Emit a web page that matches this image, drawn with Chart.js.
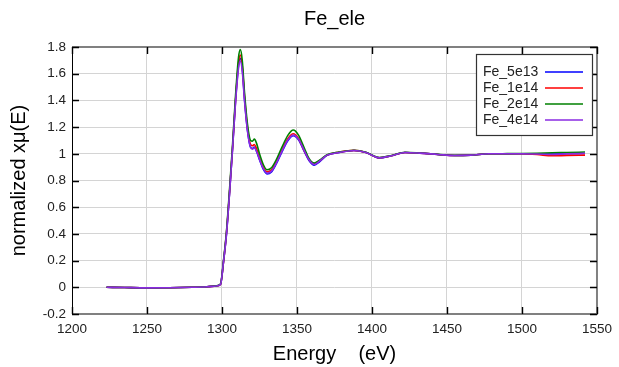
<!DOCTYPE html>
<html>
<head>
<meta charset="utf-8">
<title>Fe_ele</title>
<script src="https://cdn.jsdelivr.net/npm/chart.js@4/dist/chart.umd.min.js"></script>
<style>
    html, body { margin: 0; padding: 0; background: #ffffff; }
    #wrap { width: 619px; height: 367px; }
</style>
</head>
<body>
<div id="wrap"><canvas id="grafico" width="619" height="367"></canvas></div>
<script>
// Energia (eV) dos pontos medidos
var energia = [1223, 1235, 1250, 1265, 1280, 1290, 1296, 1299, 1301, 1303,
    1305, 1307, 1309, 1311, 1312.2, 1313.5, 1315, 1317, 1319, 1320.3,
    1321.6, 1323, 1325, 1327.5, 1330, 1333, 1336, 1340, 1344, 1347.5,
    1351, 1355, 1358, 1361.5, 1365, 1370, 1378, 1388, 1396, 1405,
    1413, 1422, 1432, 1444, 1455, 1466, 1478, 1490, 1500, 1510,
    1520, 1530, 1542];

// xmu normalizado de cada amostra
var fe5e13 = [0.000, -0.002, -0.004, -0.003, 0.000, 0.004, 0.010, 0.022, 0.19, 0.40,
    0.70, 1.03, 1.39, 1.66, 1.715, 1.64, 1.41, 1.175, 1.05, 1.04,
    1.05, 1.02, 0.955, 0.885, 0.85, 0.865, 0.92, 1.015, 1.10, 1.135,
    1.105, 1.015, 0.95, 0.915, 0.94, 0.988, 1.01, 1.025, 1.01, 0.968,
    0.985, 1.01, 1.005, 0.995, 0.987, 0.99, 1.0, 1.0, 1.0, 0.999,
    0.998, 1.0, 1.002];

var fe1e14 = [0.000, -0.002, -0.004, -0.003, 0.000, 0.004, 0.010, 0.022, 0.19, 0.41,
    0.71, 1.04, 1.40, 1.68, 1.74, 1.66, 1.43, 1.19, 1.07, 1.06,
    1.07, 1.04, 0.97, 0.90, 0.865, 0.88, 0.935, 1.03, 1.115, 1.15,
    1.115, 1.02, 0.958, 0.925, 0.948, 0.99, 1.012, 1.026, 1.01, 0.97,
    0.986, 1.01, 1.005, 0.995, 0.987, 0.99, 1.0, 1.0, 1.0, 0.995,
    0.985, 0.988, 0.99];

var fe2e14 = [0.000, -0.002, -0.004, -0.003, 0.000, 0.004, 0.011, 0.024, 0.20, 0.42,
    0.73, 1.06, 1.43, 1.72, 1.78, 1.70, 1.46, 1.22, 1.10, 1.095,
    1.11, 1.08, 1.0, 0.92, 0.88, 0.895, 0.95, 1.05, 1.14, 1.178,
    1.14, 1.04, 0.965, 0.93, 0.952, 0.993, 1.013, 1.027, 1.012, 0.972,
    0.987, 1.012, 1.006, 0.996, 0.988, 0.99, 1.0, 1.001, 1.002, 1.004,
    1.008, 1.01, 1.013];

var fe4e14 = [0.000, -0.002, -0.004, -0.003, 0.000, 0.004, 0.010, 0.022, 0.19, 0.40,
    0.70, 1.03, 1.38, 1.64, 1.695, 1.62, 1.40, 1.17, 1.05, 1.035,
    1.045, 1.02, 0.96, 0.89, 0.855, 0.87, 0.925, 1.02, 1.105, 1.14,
    1.11, 1.02, 0.955, 0.92, 0.945, 0.99, 1.01, 1.025, 1.01, 0.97,
    0.985, 1.01, 1.005, 0.995, 0.987, 0.99, 1.0, 1.0, 1.0, 0.998,
    0.995, 1.0, 1.004];

var amostras = ['Fe_5e13', 'Fe_1e14', 'Fe_2e14', 'Fe_4e14'];
var series = [fe5e13, fe1e14, fe2e14, fe4e14];
var cores = ['#0000ff', '#ff0000', '#008000', '#8a2be2'];

// Eixos
var xMin = 1200, xMax = 1550, xPasso = 50;
var yMin = -0.2, yMax = 1.8, yPasso = 0.2;

var fonte = '"Liberation Sans", Arial, sans-serif';

function montarPontos(valores) {
    return energia.map(function (e, i) { return { x: e, y: valores[i] }; });
}

var datasets = [];
for (let i = 0; i < series.length; i++) {
    datasets.push({
        label: amostras[i],
        data: montarPontos(series[i]),
        borderColor: cores[i],
        borderWidth: 1.6,
        pointRadius: 0,
        fill: false,
        cubicInterpolationMode: 'monotone',
        order: series.length - 1 - i // a última amostra fica por cima
    });
}

// Moldura, ticks para dentro, títulos e legenda no estilo gnuplot
const estiloGnuplot = {
    id: 'estiloGnuplot',
    afterDraw(chart) {
        const c = chart.ctx;
        const a = chart.chartArea;
        const sx = chart.scales.x;
        const sy = chart.scales.y;
        c.save();

        // moldura
        c.strokeStyle = '#808080';
        c.lineWidth = 2;
        c.beginPath();
        c.moveTo(a.left, a.bottom);
        c.lineTo(a.right, a.bottom);
        c.lineTo(a.right, a.top);
        c.lineTo(a.left, a.top);
        c.stroke();
        c.strokeStyle = '#000000';
        c.lineWidth = 1;
        c.beginPath();
        c.moveTo(a.left + 0.5, a.top);
        c.lineTo(a.left + 0.5, a.bottom);
        c.stroke();

        // ticks
        c.strokeStyle = '#000000';
        c.lineWidth = 1.4;
        c.beginPath();
        sx.ticks.forEach(function (t) {
            var px = Math.round(sx.getPixelForValue(t.value)) + 0.5;
            c.moveTo(px, a.bottom); c.lineTo(px, a.bottom - 7);
            c.moveTo(px, a.top); c.lineTo(px, a.top + 7);
        });
        sy.ticks.forEach(function (t) {
            var py = Math.round(sy.getPixelForValue(t.value)) + 0.5;
            c.moveTo(a.left, py); c.lineTo(a.left + 7, py);
            c.moveTo(a.right, py); c.lineTo(a.right - 7, py);
        });
        c.stroke();

        // títulos
        c.fillStyle = '#000000';
        c.textAlign = 'center';
        c.textBaseline = 'middle';
        c.font = '20px ' + fonte;
        c.fillText('Fe_ele', (a.left + a.right) / 2, 19);
        c.fillText('Energy    (eV)', (a.left + a.right) / 2, 354);
        c.save();
        c.translate(19, (a.top + a.bottom) / 2);
        c.rotate(-Math.PI / 2);
        c.fillText('normalized xμ(E)', 0, 0);
        c.restore();

        // legenda
        var lx = 476, ly = 54, lw = 116, lh = 81;
        c.fillStyle = '#ffffff';
        c.fillRect(lx, ly, lw, lh);
        c.strokeStyle = '#333333';
        c.lineWidth = 1.2;
        c.strokeRect(lx + 0.5, ly + 0.5, lw, lh);
        c.font = '14px ' + fonte;
        c.textAlign = 'left';
        for (let i = 0; i < amostras.length; i++) {
            var yy = ly + 18 + i * 16;
            c.fillStyle = '#222222';
            c.fillText(amostras[i], lx + 7, yy);
            c.strokeStyle = cores[i];
            c.lineWidth = 1.6;
            c.beginPath();
            c.moveTo(lx + 69, yy);
            c.lineTo(lx + 107, yy);
            c.stroke();
        }
        c.restore();
    }
};

const ctx = document.getElementById('grafico');

new Chart(ctx, {
    type: 'line',
    data: { datasets: datasets },
    options: {
        responsive: false,
        animation: false,
        layout: { padding: { top: 47, right: 20, left: 0, bottom: 0 } },
        plugins: {
            legend: { display: false },
            title: { display: false },
            tooltip: { enabled: false }
        },
        scales: {
            x: {
                type: 'linear',
                min: xMin,
                max: xMax,
                afterFit: function (s) { s.height = 53; },
                ticks: {
                    stepSize: xPasso,
                    padding: 7,
                    color: '#222222',
                    font: { family: fonte, size: 13.5 },
                    maxRotation: 0,
                    callback: function (v) { return String(v); }
                },
                grid: { color: '#d4d4d4', lineWidth: 1, drawTicks: false },
                border: { display: false }
            },
            y: {
                type: 'linear',
                min: yMin,
                max: yMax,
                afterFit: function (s) { s.width = 72; },
                ticks: {
                    stepSize: yPasso,
                    padding: 6,
                    color: '#222222',
                    font: { family: fonte, size: 13.5 },
                    callback: function (v) { return Number(v.toFixed(1)).toString(); }
                },
                grid: { color: '#d4d4d4', lineWidth: 1, drawTicks: false },
                border: { display: false }
            }
        }
    },
    plugins: [estiloGnuplot]
});
</script>
</body>
</html>
